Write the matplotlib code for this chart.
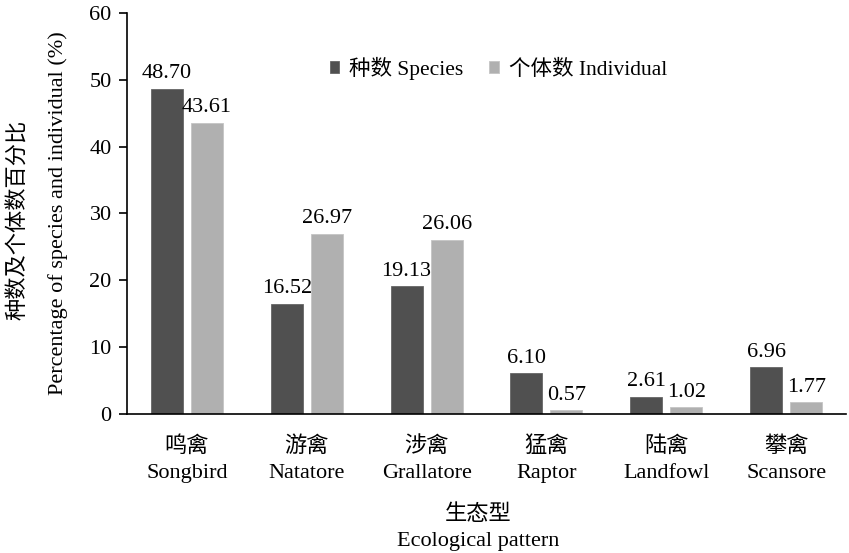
import matplotlib

matplotlib.use("Agg")
import matplotlib.pyplot as plt  # noqa: E402
import numpy as np  # noqa: E402

plt.rcParams["font.family"] = ["Liberation Serif", "Noto Sans CJK SC"]
plt.rcParams["font.size"] = 16

# 生态型类别及百分比
groups_cn = ["鸣禽", "游禽", "涉禽", "猛禽", "陆禽", "攀禽"]
groups_en = ["Songbird", "Natatore", "Grallatore", "Raptor", "Landfowl", "Scansore"]
species = [48.70, 16.52, 19.13, 6.10, 2.61, 6.96]
individual = [43.61, 26.97, 26.06, 0.57, 1.02, 1.77]
yticks = [0, 10, 20, 30, 40, 50, 60]

dark = "#505050"
light = "#b0b0b0"
fs = 16

fig = plt.figure(figsize=(8.49, 5.53), dpi=100)
ax = fig.add_axes([0.1496, 0.2514, 0.8469, 0.7251])

x = np.arange(len(groups_cn))
w = 0.267
off = 0.167
b1 = ax.bar(x - off, species, w, color=dark, edgecolor="#666666", lw=0.6, label="种数 Species")
b2 = ax.bar(x + off, individual, w, color=light, edgecolor="#c4c4c4", lw=0.6, label="个体数 Individual")

for bars, vals in ((b1, species), (b2, individual)):
    for r, v in zip(bars, vals):
        ax.text(r.get_x() + r.get_width() / 2, v + 0.8, f"{v:.2f}",
                ha="center", va="bottom", fontsize=fs)

ax.set_xlim(-0.5, 5.5)
ax.set_ylim(0, 60)
ax.set_yticks(yticks)
ax.tick_params(axis="y", direction="out", length=6, width=1.2, labelsize=fs, pad=5)
ax.set_xticks(x)
ax.set_xticklabels([f"{c}\n{e}" for c, e in zip(groups_cn, groups_en)], fontsize=fs,
                   linespacing=1.5)
ax.tick_params(axis="x", length=0, pad=16)

for s in ("top", "right"):
    ax.spines[s].set_visible(False)
ax.spines["left"].set_linewidth(1.2)
ax.spines["bottom"].set_linewidth(1.2)

ax.legend(loc="upper left", bbox_to_anchor=(0.255, 0.94), ncol=2, frameon=False,
          handlelength=0.45, handleheight=0.45, handletextpad=0.45, columnspacing=1.2,
          fontsize=15.5)

# 轴标题（中英双行）
fig.text(0.022, 0.603, "种数及个体数百分比", rotation=90, ha="center", va="center", fontsize=fs)
fig.text(0.068, 0.615, "Percentage of species and individual (%)", rotation=90,
         ha="center", va="center", fontsize=fs)
fig.text(0.563, 0.069, "生态型", ha="center", va="center", fontsize=fs)
fig.text(0.563, 0.02, "Ecological pattern", ha="center", va="center", fontsize=fs)

fig.savefig("out.png", dpi=100)
